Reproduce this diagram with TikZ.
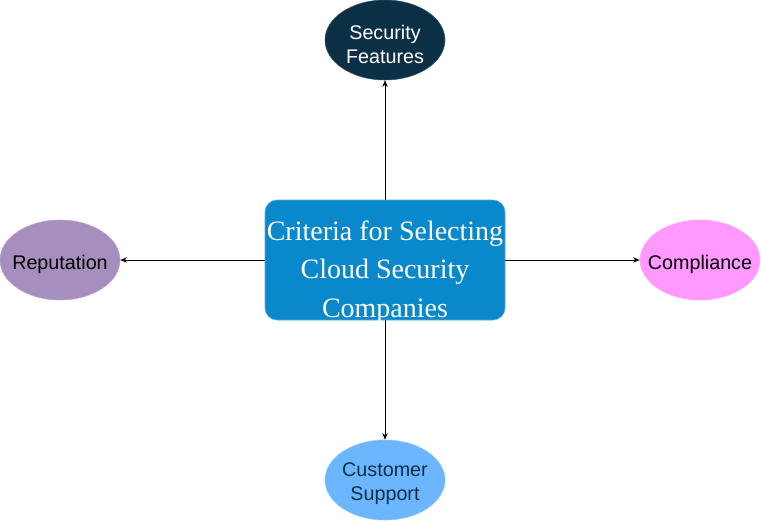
\documentclass[tikz,border=0pt]{standalone}
\usepackage{fontspec}
\setmainfont{Liberation Serif}
\setsansfont{Liberation Sans}
\usetikzlibrary{shapes.geometric, arrows.meta, positioning}
\definecolor{centerblue}{HTML}{0A88CC}
\definecolor{darknavy}{HTML}{0B3046}
\definecolor{lilac}{HTML}{A68FBE}
\definecolor{pinkish}{HTML}{FF99FF}
\definecolor{skyblue}{HTML}{6CB6FF}
\begin{document}
\begin{tikzpicture}[
    x=0.75pt, y=-0.75pt,
    criterion/.style={ellipse, draw=#1!80!white, fill=#1, minimum width=90pt, minimum height=60pt, inner sep=0pt},
    crittext/.style={align=center, inner sep=0pt, yshift=-3pt, font=\sffamily\fontsize{14.8}{18}\selectfont},
    mainbox/.style={draw=centerblue!70!white, fill=centerblue, rounded corners=9pt, minimum width=180pt, minimum height=90pt, inner sep=0pt},
    maintext/.style={align=center, inner sep=0pt, yshift=-9pt, text=white, font=\fontsize{21}{29}\selectfont},
    arrow/.style={-{Stealth[length=5pt, width=4pt]}, thin}
]
\useasboundingbox (0,0) rectangle (761,521);

% Centre
\node[mainbox] (criteria) at (385,260) {};
\node[maintext] (criteriatext) at (criteria) {Criteria for Selecting\\Cloud Security\\Companies};

% Criteria
\node[criterion=darknavy] (security) at (385,40) {};
\node[crittext, text=white] (securitytext) at (security) {Security\\Features};
\node[criterion=lilac] (reputation) at (60,260) {};
\node[crittext] (reputationtext) at (reputation) {Reputation};
\node[criterion=pinkish] (compliance) at (700,260) {};
\node[crittext] (compliancetext) at (compliance) {Compliance};
\node[criterion=skyblue] (support) at (385,480) {};
\node[crittext, text=darknavy] (supporttext) at (support) {Customer\\Support};

% Arrows
\draw[arrow] (criteria.north) -- (security.south);
\draw[arrow] (criteria.west) -- (reputation.east);
\draw[arrow] (criteria.east) -- (compliance.west);
\draw[arrow] (criteria.south) -- (support.north);

\end{tikzpicture}
\end{document}
